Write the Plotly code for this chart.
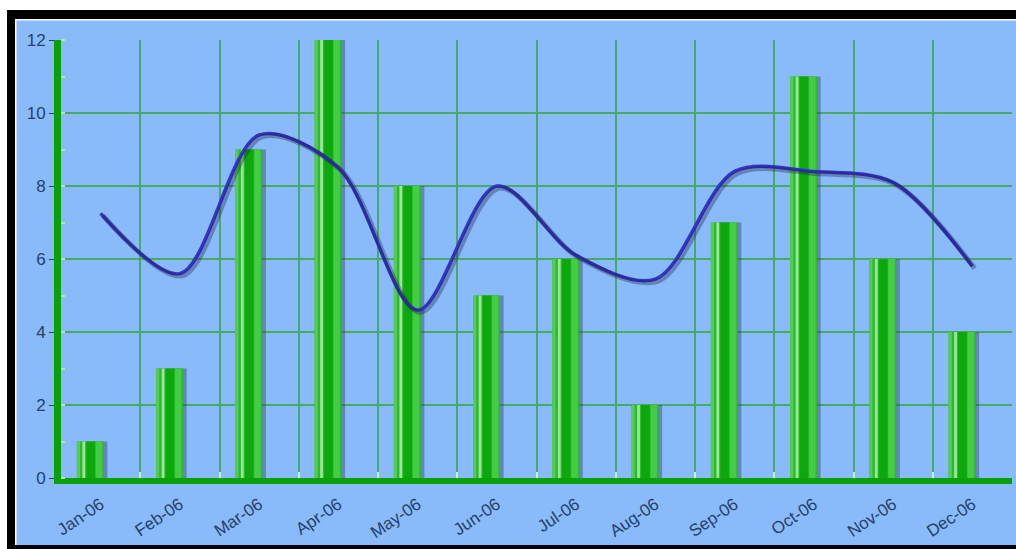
import plotly.graph_objects as go

months = ["Jan-06", "Feb-06", "Mar-06", "Apr-06", "May-06", "Jun-06",
          "Jul-06", "Aug-06", "Sep-06", "Oct-06", "Nov-06", "Dec-06"]
bar_values = [1, 3, 9, 12, 8, 5, 6, 2, 7, 11, 6, 4]
line_values = [7.25, 5.6, 9.4, 8.5, 4.6, 8.0, 6.1, 5.45, 8.4, 8.4, 8.1, 5.8]
y_ticks = [0, 2, 4, 6, 8, 10, 12]

W, H = 1016, 549
L, R, T, B = 61, 4, 40, 71
PW, PH = W - L - R, H - T - B

def fx(px):
    return (px - L) / PW

def fy(py):
    return (H - B - py) / PH

BG = "#89BAFA"
GRID = "#45AA6A"
AXIS = "#0AA00A"
TXT = "#24426A"

fig = go.Figure()

BAR_OFF = -0.30
BAR_W = 0.34

# bar shadow
fig.add_trace(go.Bar(x=months, y=bar_values, offset=BAR_OFF + 0.045, width=BAR_W,
                     marker=dict(color="rgba(40,55,95,0.40)", line_width=0),
                     hoverinfo="skip", showlegend=False))
# main bar
fig.add_trace(go.Bar(x=months, y=bar_values, offset=BAR_OFF, width=BAR_W,
                     marker=dict(color="#2DBA2D", line_width=0), showlegend=False))
# light left edge
fig.add_trace(go.Bar(x=months, y=bar_values, offset=BAR_OFF, width=0.04,
                     marker=dict(color="#55CC55", line_width=0),
                     hoverinfo="skip", showlegend=False))
# pale highlight stripe
fig.add_trace(go.Bar(x=months, y=bar_values, offset=BAR_OFF + 0.07, width=0.035,
                     marker=dict(color="#9BE49B", line_width=0),
                     hoverinfo="skip", showlegend=False))
# dark center
fig.add_trace(go.Bar(x=months, y=bar_values, offset=BAR_OFF + 0.12, width=0.11,
                     marker=dict(color="#0DA80D", line_width=0),
                     hoverinfo="skip", showlegend=False))
# bright right part
fig.add_trace(go.Bar(x=months, y=bar_values, offset=BAR_OFF + 0.24, width=0.08,
                     marker=dict(color="#44CC44", line_width=0),
                     hoverinfo="skip", showlegend=False))

# line shadow on shifted overlay axes
fig.add_trace(go.Scatter(x=list(range(len(months))), y=line_values, mode="lines",
                         line=dict(color="rgba(30,30,70,0.35)", width=5, shape="spline", smoothing=0.9),
                         xaxis="x2", yaxis="y2", hoverinfo="skip", showlegend=False))
# main line
fig.add_trace(go.Scatter(x=months, y=line_values, mode="lines",
                         line=dict(color="#3434C8", width=3.5, shape="spline", smoothing=0.9),
                         showlegend=False))

shapes = []
def rect(x0, y0, x1, y1, color):
    shapes.append(dict(type="rect", xref="paper", yref="paper",
                       x0=fx(x0), x1=fx(x1), y0=fy(y1), y1=fy(y0),
                       fillcolor=color, line_width=0, layer="above"))

rect(0, 0, W, 10, "white")
rect(0, 0, 7, H, "white")
rect(7, 10, W, 19, "black")
rect(7, 10, 15, H, "black")
rect(15, 19, W, 20.5, "white")
rect(15, 19, 16.5, 545, "white")
rect(7, 545, W, H, "black")

fig.update_layout(
    width=W, height=H,
    margin=dict(l=L, r=R, t=T, b=B, pad=0),
    paper_bgcolor=BG, plot_bgcolor=BG,
    barmode="overlay",
    shapes=shapes,
    xaxis=dict(type="category", tickson="boundaries", showgrid=True, gridcolor=GRID, gridwidth=2,
               showline=True, linecolor=AXIS, linewidth=6,
               ticks="inside", ticklen=6, tickwidth=2, tickcolor="#C8F0C8",
               tickangle=-34, ticklabelstandoff=4,
               tickfont=dict(family="Liberation Sans, Arial", size=17, color=TXT),
               range=[-0.5, 11.5], zeroline=False),
    yaxis=dict(range=[0, 12], tickvals=y_ticks, showgrid=True, gridcolor=GRID, gridwidth=2,
               showline=True, linecolor=AXIS, linewidth=7,
               ticks="outside", ticklen=5, tickwidth=1, tickcolor=TXT,
               tickfont=dict(family="Liberation Sans, Arial", size=17, color=TXT),
               zeroline=False,
               minor=dict(dtick=1, ticks="inside", ticklen=4, tickwidth=2, tickcolor="#B0E8B0", showgrid=False)),
    xaxis2=dict(overlaying="x", range=[-0.5 - 0.03, 11.5 - 0.03], visible=False),
    yaxis2=dict(overlaying="y", range=[0.06, 12.06], visible=False),
)

fig.write_html("out.html", config={"displayModeBar": False},
               post_script="document.body.style.margin='0';document.body.style.overflow='hidden';")
